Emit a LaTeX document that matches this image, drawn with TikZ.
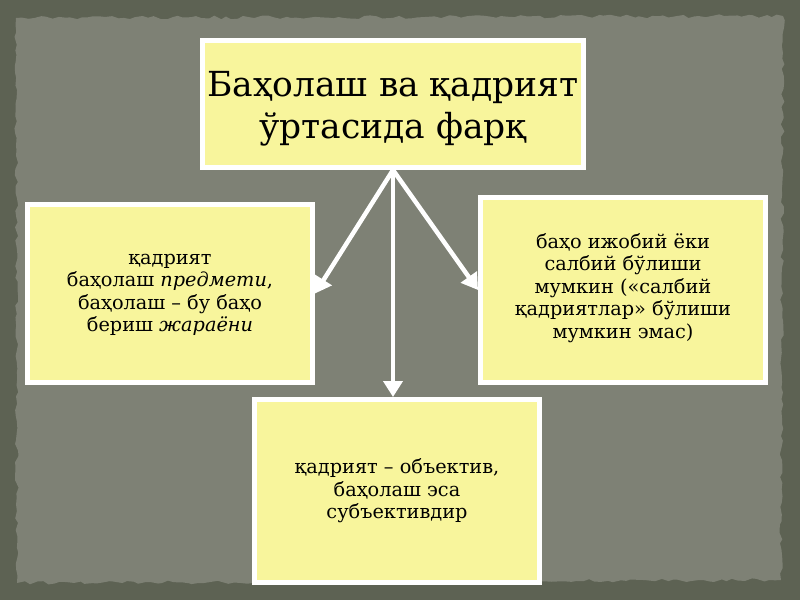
\documentclass[tikz,border=0pt]{standalone}
\usepackage{fontspec}
\setmainfont{DejaVu Serif}
\usetikzlibrary{arrows.meta,decorations.pathmorphing}
\definecolor{outerbg}{HTML}{5D6253}
\definecolor{panelbg}{HTML}{7E8175}
\definecolor{boxfill}{HTML}{F8F59C}
\tikzset{
  box/.style={draw=white, line width=5pt, fill=boxfill, inner sep=0pt},
  bodytext/.style={align=center, text=black, inner sep=0pt, font=\fontsize{19.3}{22.5}\selectfont},
  titletext/.style={align=center, text=black, inner sep=0pt, font=\fontsize{34.5}{42}\selectfont},
  conn/.style={draw=white, line width=4.5pt, -{Triangle[width=19pt,length=16pt]}}
}
\begin{document}
\begin{tikzpicture}[x=1pt,y=-1pt]
\pgfmathsetseed{7}
\useasboundingbox (0,0) rectangle (800,600);
\fill[outerbg] (0,0) rectangle (800,600);
\fill[panelbg, decorate, decoration={random steps, segment length=6pt, amplitude=1.8pt}]
  (16,18) -- (783,16) -- (781,580) -- (17,583) -- cycle;
\node[box, minimum width=381pt, minimum height=127pt] (top) at (393,104) {};
\node[titletext] (toptext) at (393,109) {Баҳолаш ва қадрият\\ ўртасида фарқ};
\node[box, minimum width=285pt, minimum height=178pt] (left) at (170,293.5) {};
\node[bodytext] (lefttext) at (170,295)
  {қадрият\\ баҳолаш \textit{предмети},\\ баҳолаш – бу баҳо\\ бериш \textit{жараёни}};
\node[box, minimum width=285pt, minimum height=185pt] (right) at (623,290) {};
\node[bodytext] (righttext) at (623,288)
  {баҳо ижобий ёки\\ салбий бўлиши\\ мумкин («салбий\\ қадриятлар» бўлиши\\ мумкин эмас)};
\node[box, minimum width=285pt, minimum height=183pt] (bottom) at (397,491) {};
\node[bodytext] (bottomtext) at (397,491)
  {қадрият – объектив,\\ баҳолаш эса\\ субъективдир};
\coordinate (o) at (393,170);
\draw[conn] (o) -- (left.east);
\draw[conn] (o) -- (right.west);
\draw[conn] (o) -- (bottom.north -| o);
\end{tikzpicture}
\end{document}
